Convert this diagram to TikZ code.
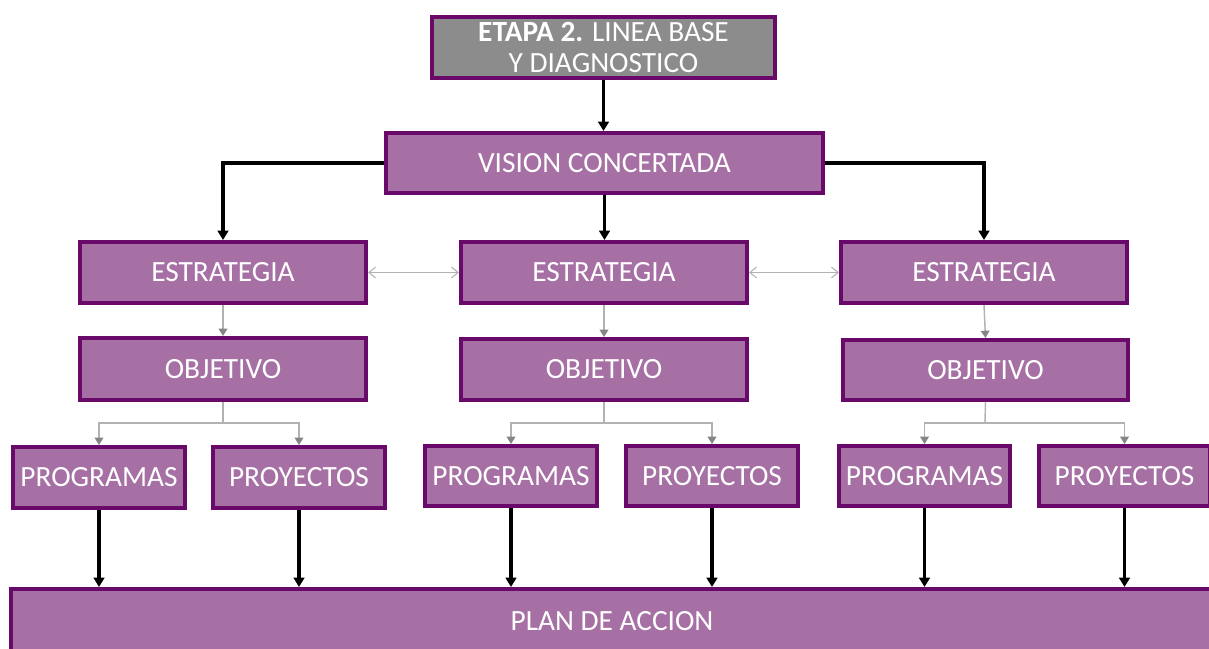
\documentclass[tikz,border=0pt]{standalone}
\usepackage{fontspec}
\setmainfont{Carlito}
\usetikzlibrary{arrows.meta}
\definecolor{boxfill}{HTML}{A670A5}
\definecolor{boxline}{HTML}{690A6B}
\definecolor{topfill}{HTML}{8C8C8C}
\definecolor{connline}{HTML}{B2B2B2}
\definecolor{connhead}{HTML}{858585}
\tikzset{
  box/.style={draw=boxline, line width=3pt, fill=boxfill, text=white, inner sep=0pt,
    align=center, font=\fontsize{22}{23}\selectfont},
  topbox/.style={box, fill=topfill},
  blackarr/.style={draw=black, line width=2.5pt, -{Triangle[length=7pt,width=8pt]}},
  grayarr/.style={draw=connline, line width=1.1pt, -{Triangle[length=5.5pt,width=6.5pt,color=connhead]}},
  dblarr/.style={draw=connline, line width=0.8pt,
    {Straight Barb[length=5pt,width=8pt]}-{Straight Barb[length=5pt,width=8pt]}},
}
% #1 style, #2 name, #3 x1, #4 y1, #5 x2, #6 y2, #7 text (pixel coords of the border path)
\newcommand\pbox[7]{%
  \node[#1, minimum width={0.75pt*(#5-#3)}, minimum height={0.75pt*(#6-#4)}]
    (#2) at ({(#3+#5)/2},{(#4+#6)/2}) {#7};}
\begin{document}
\begin{tikzpicture}[x=0.75pt,y=-0.75pt]
\useasboundingbox (0,0) rectangle (1209,649);
\clip (0,0) rectangle (1209,649);

% top
\pbox{topbox}{top}{432}{17}{775}{78}{\textbf{ETAPA 2.} LINEA BASE\\Y DIAGNOSTICO}
\pbox{box}{vision}{386}{133}{823}{193}{VISION CONCERTADA}

% strategies
\pbox{box}{e1}{80}{242}{366}{303}{ESTRATEGIA}
\pbox{box}{e2}{461}{242}{747}{303}{ESTRATEGIA}
\pbox{box}{e3}{841}{242}{1127}{303}{ESTRATEGIA}

% objectives
\pbox{box}{o1}{80}{338}{366}{400}{OBJETIVO}
\pbox{box}{o2}{461}{339}{747}{400}{OBJETIVO}
\pbox{box}{o3}{843}{340}{1128}{400}{OBJETIVO}

% programas / proyectos
\pbox{box}{p1}{13}{447}{185}{508}{PROGRAMAS}
\pbox{box}{q1}{213}{447}{385}{508}{PROYECTOS}
\pbox{box}{p2}{425}{446}{597}{506}{PROGRAMAS}
\pbox{box}{q2}{626}{446}{798}{506}{PROYECTOS}
\pbox{box}{p3}{839}{446}{1010}{506}{PROGRAMAS}
\pbox{box}{q3}{1039}{446}{1210}{506}{PROYECTOS}

% plan
\pbox{box}{plan}{11}{589}{1213}{654}{PLAN DE ACCION}

% black connectors
\draw[blackarr] (top.south) -- (top.south |- vision.north);
\draw[blackarr] (vision.west) -| (e1.north);
\draw[blackarr] (vision.south) -- (vision.south |- e2.north);
\draw[blackarr] (vision.east) -| (e3.north);

% double arrows
\draw[dblarr] (e1.east) -- (e2.west);
\draw[dblarr] (e2.east) -- (e3.west);

% strategy -> objective
\draw[grayarr] (e1.south) -- (o1.north);
\draw[grayarr] (e2.south) -- (o2.north);
\draw[grayarr] (e3.south) -- (o3.north);

% objective -> programas / proyectos
\coordinate (b1) at (223,423);
\coordinate (b2) at (604,423);
\coordinate (b3) at (985,423);
\draw[draw=connline, line width=1.1pt] (o1.south) -- (b1);
\draw[draw=connline, line width=1.1pt] (o2.south) -- (b2);
\draw[draw=connline, line width=1.1pt] (o3.south) -- (b3);
\draw[grayarr] (b1) -| (p1.north);
\draw[grayarr] (b1) -| (q1.north);
\draw[grayarr] (b2) -| (p2.north);
\draw[grayarr] (b2) -| (q2.north);
\draw[grayarr] (b3) -| (p3.north);
\draw[grayarr] (b3) -| (q3.north);

% to plan
\foreach \n in {p1,q1,p2,q2,p3,q3}
  \draw[blackarr] (\n.south) -- (\n.south |- plan.north);
\end{tikzpicture}
\end{document}
